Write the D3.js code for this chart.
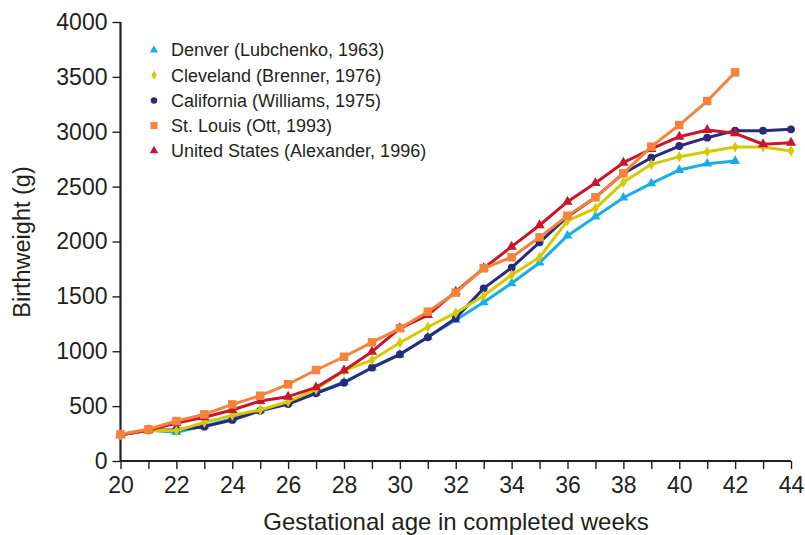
<!DOCTYPE html>
<html><head><meta charset="utf-8">
<script src="https://cdn.jsdelivr.net/npm/d3@7"></script>
<style>body{margin:0;background:#fff}svg{display:block}text{font-family:"Liberation Sans",Arial,sans-serif;fill:#231f20}</style>
</head><body><svg id="c" width="805" height="535"></svg>
<script>
const weeks = d3.range(20, 45);
const seriesNames = ["Denver (Lubchenko, 1963)","Cleveland (Brenner, 1976)","California (Williams, 1975)","St. Louis (Ott, 1993)","United States (Alexander, 1996)"];
const denver = [240,280,262,320,385,460,530,620,720,850,970,1130,1285,1446,1619,1807,2053,2226,2399,2530,2651,2709,2733];
const cleveland = [240,280,276,352,416,465,540,653,823,920,1078,1221,1349,1506,1695,1856,2190,2302,2539,2703,2773,2818,2861,2861,2825];
const california = [240,280,285,313,374,458,519,617,713,850,972,1127,1300,1573,1761,1993,2226,2403,2621,2763,2870,2946,3010,3010,3022];
const stLouis = [243,289,364,425,516,595,699,829,950,1081,1209,1360,1534,1756,1856,2038,2235,2403,2621,2864,3061,3280,3541];
const unitedStates = [240,280,345,398,465,547,586,671,824,996,1209,1330,1543,1756,1953,2148,2363,2533,2718,2843,2955,3016,2986,2886,2900];
const xTicks = d3.range(20, 45, 2);
const yTicks = d3.range(0, 4001, 500);

const svg = d3.select("#c");
const x = d3.scaleLinear().domain([20,44]).range([120.5,791]);
const y = d3.scaleLinear().domain([0,4000]).range([461,22]);

const series = [
 {name:seriesNames[0], vals:denver, color:"#1aaee6", sym:d3.symbolTriangle, size:42},
 {name:seriesNames[1], vals:cleveland, color:"#d6c900", sym:d3.symbolDiamond, size:36},
 {name:seriesNames[2], vals:california, color:"#2a2a7c", sym:d3.symbolCircle, size:48},
 {name:seriesNames[3], vals:stLouis, color:"#f5843a", sym:d3.symbolSquare, size:72},
 {name:seriesNames[4], vals:unitedStates, color:"#c8172b", sym:d3.symbolTriangle, size:46}
];
const drawOrder = [0,2,1,4,3];

// axes
const gx = svg.append("g").attr("transform","translate(0,461)")
  .call(d3.axisBottom(x).tickValues(d3.range(20,45,1)).tickSize(8).tickFormat(d=> xTicks.includes(d) ? d : ""));
const gy = svg.append("g").attr("transform","translate(120.5,0)")
  .call(d3.axisLeft(y).tickValues(yTicks).tickSize(8).tickPadding(5).tickFormat(d3.format("d")));
[gx,gy].forEach(g=>{
  g.select(".domain").attr("stroke","#231f20").attr("stroke-width",2.2);
  g.selectAll(".tick line").attr("stroke","#231f20").attr("stroke-width",1.4);
  g.selectAll(".tick text").style("font-size","23px").style("font-family","'Liberation Sans',Arial,sans-serif").attr("fill","#231f20");
});
gx.select(".domain").attr("d","M120.5,0H791");
gy.select(".domain").attr("d","M0,461V22");
gx.selectAll(".tick text").attr("dy","0.92em");

const line = d3.line().x((d,i)=>x(weeks[i])).y(d=>y(d));
drawOrder.forEach(k=>{
  const s = series[k];
  svg.append("path").datum(s.vals).attr("d",line).attr("fill","none")
    .attr("stroke",s.color).attr("stroke-width",3).attr("stroke-linejoin","round");
  svg.append("g").selectAll("path").data(s.vals).join("path")
    .attr("transform",(d,i)=>`translate(${x(weeks[i])},${y(d)})`)
    .attr("d",d3.symbol().type(s.sym).size(s.size)).attr("fill",s.color);
});

// legend
const leg = svg.append("g");
series.forEach((s,i)=>{
  const yy = 50 + i*25.2;
  leg.append("path").attr("transform",`translate(154,${yy})`)
    .attr("d",d3.symbol().type(s.sym).size(s.size*0.7)).attr("fill",s.color);
  leg.append("text").attr("x",171).attr("y",yy).attr("dy","0.35em").style("font-size","18px").text(s.name);
});

svg.append("text").attr("x",456).attr("y",530).attr("text-anchor","middle").style("font-size","24px").text("Gestational age in completed weeks");
svg.append("text").attr("transform","translate(30,242) rotate(-90)").attr("text-anchor","middle").style("font-size","23.5px").text("Birthweight (g)");
</script></body></html>
